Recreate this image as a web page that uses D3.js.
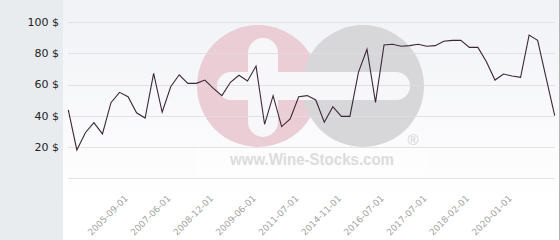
<!DOCTYPE html>
<html>
<head>
<meta charset="utf-8">
<script src="https://cdn.jsdelivr.net/npm/d3@7"></script>
<style>
  body{margin:0;background:#fff;}
  svg{display:block;font-family:"DejaVu Sans",sans-serif;}
</style>
</head>
<body>
<svg width="560" height="240"></svg>
<script>
// price per point, evenly spaced along the x axis
const prices = [43.7,18,29.1,35.5,28.3,48.4,55,52.2,41.9,38.5,
  67.2,42.2,58.6,66.3,60.8,60.8,62.9,57.6,52.9,61.5,
  66,62.3,71.9,34.5,52.9,33,37.9,52.2,52.9,50.1,
  35.8,45.8,39.6,39.6,67.9,82.7,48.6,85.4,85.9,84.6,
  85,85.9,84.6,85,87.8,88.4,88.4,83.9,83.9,74.7,
  62.9,66.8,65.5,64.7,91.8,88.4,64.2,40];
// labelled positions on the x axis
const tickIdx = [7,12,17,22,27,32,37,42,47,52];
const tickLabels = ['2005-09-01','2007-06-01','2008-12-01','2009-06-01','2011-07-01',
  '2014-11-01','2016-07-01','2017-07-01','2018-02-01','2020-01-01'];
const yTicks = [20,40,60,80,100];
const gridVals = [0,20,40,60,80,100];

const svg = d3.select('svg');
const width = +svg.attr('width'), height = +svg.attr('height');

const x = d3.scalePoint().domain(d3.range(prices.length)).range([68.3,554.7]);
const y = d3.scaleLinear().domain([0,100]).range([178,22.3]);

const defs = svg.append('defs');
const grad = defs.append('linearGradient').attr('id','bg').attr('x1',0).attr('y1',0).attr('x2',0).attr('y2',1);
grad.append('stop').attr('offset','0%').attr('stop-color','#f1f2f6');
grad.append('stop').attr('offset','85%').attr('stop-color','#ffffff');

// left panel + plot background
svg.append('rect').attr('width',63).attr('height',height).attr('fill','#e8ecef');
svg.append('rect').attr('x',63).attr('width',496).attr('height',height).attr('fill','url(#bg)');
svg.append('line').attr('x1',559.5).attr('x2',559.5).attr('y1',0).attr('y2',height)
  .attr('stroke','#b4b4b4');

// watermark
const wm = svg.append('g').attr('class','watermark');
wm.append('rect').attr('x',197).attr('y',147).attr('width',230).attr('height',27)
  .attr('fill','#fff').attr('opacity',0.45);
wm.append('circle').attr('cx',258).attr('cy',86).attr('r',61).attr('fill','#ebcdd6');
wm.append('circle').attr('cx',363).attr('cy',86).attr('r',61).attr('fill','#d7d7d9');
wm.append('rect').attr('x',217).attr('y',72).attr('width',193).attr('height',28).attr('rx',14)
  .attr('fill','#f7f7fa');
wm.append('rect').attr('x',248).attr('y',38).attr('width',30).attr('height',99).attr('rx',15)
  .attr('fill','#f7f7fa');
wm.append('text').attr('x',413).attr('y',145).attr('text-anchor','middle')
  .attr('font-family','Liberation Sans, Arial, sans-serif').attr('font-size',15)
  .attr('fill','#d2d2d4').text('®');
wm.append('text').attr('x',230).attr('y',165).attr('textLength',164)
  .attr('lengthAdjust','spacingAndGlyphs')
  .attr('font-family','Liberation Sans, Arial, sans-serif').attr('font-weight','bold')
  .attr('font-size',16).attr('fill','#dcdcdc').text('www.Wine-Stocks.com');

// grid
svg.append('g').selectAll('line').data(gridVals).join('line')
  .attr('x1',68).attr('x2',555)
  .attr('y1',d=>Math.round(y(d))+0.5).attr('y2',d=>Math.round(y(d))+0.5)
  .attr('stroke','#dedede').attr('stroke-opacity',0.85);

// y labels
svg.append('g').selectAll('text').data(yTicks).join('text')
  .attr('x',59).attr('y',d=>y(d)).attr('dy','0.35em')
  .attr('text-anchor','end').attr('font-size',11).attr('fill','#222')
  .text(d=>d+' $');

// x labels
svg.append('g').selectAll('text').data(tickIdx).join('text')
  .attr('transform',d=>`translate(${x(d)+0.5},199) rotate(-45)`)
  .attr('text-anchor','end').attr('font-size',9).attr('fill','#a3a3a3')
  .text((d,i)=>tickLabels[i]);

// price line
const line = d3.line().x((d,i)=>x(i)).y(d=>y(d));
svg.append('path').datum(prices).attr('d',line)
  .attr('fill','none').attr('stroke','#3b2737').attr('stroke-width',1.1)
  .attr('stroke-linejoin','miter');
</script>
</body>
</html>
